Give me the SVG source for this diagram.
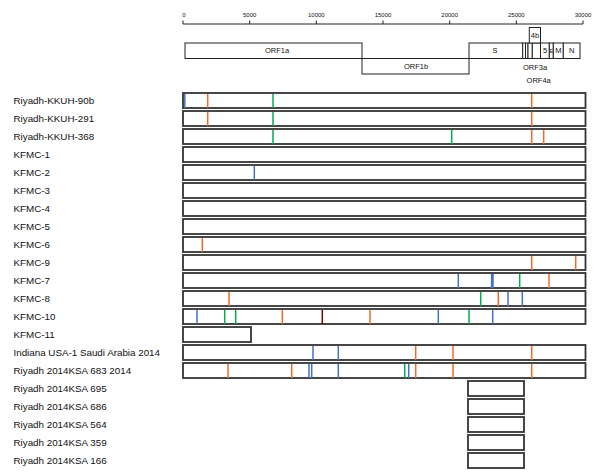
<svg xmlns="http://www.w3.org/2000/svg" width="600" height="476" viewBox="0 0 600 476">
<style>
text{font-family:"Liberation Sans",Arial,sans-serif;fill:#111}
.lab{font-size:9.8px}
.tk{font-size:6px;text-anchor:middle}
.gl{font-size:7.5px;text-anchor:middle}
.ax{stroke:#222;stroke-width:1;fill:none}
.gm{fill:#fff;stroke:#222;stroke-width:1}
.bar{fill:#fff;stroke:#333;stroke-width:1.8}
.o{stroke:#F26B2A;stroke-width:1.5}
.b{stroke:#4472C4;stroke-width:1.5}
.g{stroke:#00B050;stroke-width:1.5}
.r{stroke:#7F0000;stroke-width:1.5}
</style>
<g id="axis">
<path class="ax" d="M183 24H583M183 20.5V24M249.7 20.5V24M316.3 20.5V24M383 20.5V24M449.7 20.5V24M516.3 20.5V24M583 20.5V24"/>
<text class="tk" x="184" y="17">0</text>
<text class="tk" x="249.7" y="17">5000</text>
<text class="tk" x="316.3" y="17">10000</text>
<text class="tk" x="383" y="17">15000</text>
<text class="tk" x="449.7" y="17">20000</text>
<text class="tk" x="516.3" y="17">25000</text>
<text class="tk" x="583" y="17">30000</text>
</g>
<g id="genome-map">
<rect class="gm" x="185" y="43" width="177" height="15.5"/>
<rect class="gm" x="362" y="58.5" width="107" height="15.5"/>
<rect class="gm" x="469" y="43" width="53.7" height="15.5"/>
<rect class="gm" x="522.7" y="43" width="2.8" height="15.5"/>
<rect class="gm" x="525.5" y="43" width="2.5" height="15.5"/>
<rect class="gm" x="528" y="43" width="4.3" height="15.5"/>
<rect class="gm" x="532.3" y="43" width="8.2" height="15.5"/>
<rect class="gm" x="529.3" y="27.5" width="11.2" height="15.5"/>
<rect class="gm" x="540.5" y="43" width="8.8" height="15.5"/>
<rect class="gm" x="549.3" y="43" width="4" height="15.5"/>
<rect class="gm" x="553.3" y="43" width="10" height="15.5"/>
<rect class="gm" x="563.3" y="43" width="16.7" height="15.5"/>
<text class="gl" x="277" y="53.4">ORF1a</text>
<text class="gl" x="416" y="69.2">ORF1b</text>
<text class="gl" x="495" y="53.4">S</text>
<text class="gl" x="535" y="38.2">4b</text>
<text class="gl" x="545" y="53.4">5</text>
<text class="gl" x="551.3" y="53" style="font-size:5px">E</text>
<text class="gl" x="558.3" y="53.4">M</text>
<text class="gl" x="571.7" y="53.4">N</text>
<text class="gl" x="535" y="70.2">ORF3a</text>
<text class="gl" x="538.7" y="82.7">ORF4a</text>
</g>
<g id="row-riyadh-kkuh-90b">
<text class="lab" x="13.5" y="104">Riyadh-KKUH-90b</text>
<rect class="bar" x="183" y="93" width="402.5" height="15"/>
<path class="b" d="M184.8 94V108"/><path class="o" d="M207.7 94V108M531.7 94V108"/><path class="g" d="M273 94V108"/>
</g>
<g id="row-riyadh-kkuh-291">
<text class="lab" x="13.5" y="122">Riyadh-KKUH-291</text>
<rect class="bar" x="183" y="111" width="402.5" height="15"/>
<path class="o" d="M207.7 112V126M531.7 112V126"/><path class="g" d="M273 112V126"/>
</g>
<g id="row-riyadh-kkuh-368">
<text class="lab" x="13.5" y="140">Riyadh-KKUH-368</text>
<rect class="bar" x="183" y="129" width="402.5" height="15"/>
<path class="g" d="M273 130V144M451.7 130V144"/><path class="o" d="M531.7 130V144M543.7 130V144"/>
</g>
<g id="row-kfmc-1">
<text class="lab" x="13.5" y="158">KFMC-1</text>
<rect class="bar" x="183" y="147" width="402.5" height="15"/>
</g>
<g id="row-kfmc-2">
<text class="lab" x="13.5" y="176">KFMC-2</text>
<rect class="bar" x="183" y="165" width="402.5" height="15"/>
<path class="b" d="M254.3 166V180"/>
</g>
<g id="row-kfmc-3">
<text class="lab" x="13.5" y="194">KFMC-3</text>
<rect class="bar" x="183" y="183" width="402.5" height="15"/>
</g>
<g id="row-kfmc-4">
<text class="lab" x="13.5" y="212">KFMC-4</text>
<rect class="bar" x="183" y="201" width="402.5" height="15"/>
</g>
<g id="row-kfmc-5">
<text class="lab" x="13.5" y="230">KFMC-5</text>
<rect class="bar" x="183" y="219" width="402.5" height="15"/>
</g>
<g id="row-kfmc-6">
<text class="lab" x="13.5" y="248">KFMC-6</text>
<rect class="bar" x="183" y="237" width="402.5" height="15"/>
<path class="o" d="M202.3 238V252"/>
</g>
<g id="row-kfmc-9">
<text class="lab" x="13.5" y="266">KFMC-9</text>
<rect class="bar" x="183" y="255" width="402.5" height="15"/>
<path class="o" d="M531.7 256V270M575.7 256V270"/>
</g>
<g id="row-kfmc-7">
<text class="lab" x="13.5" y="284">KFMC-7</text>
<rect class="bar" x="183" y="273" width="402.5" height="15"/>
<path class="b" d="M458.3 274V288M491.6 274V288M493 274V288"/><path class="g" d="M519.7 274V288"/><path class="o" d="M549 274V288"/>
</g>
<g id="row-kfmc-8">
<text class="lab" x="13.5" y="302">KFMC-8</text>
<rect class="bar" x="183" y="291" width="402.5" height="15"/>
<path class="o" d="M229 292V306M498.3 292V306"/><path class="g" d="M480.7 292V306"/><path class="b" d="M508 292V306M522.3 292V306"/>
</g>
<g id="row-kfmc-10">
<text class="lab" x="13.5" y="320">KFMC-10</text>
<rect class="bar" x="183" y="309" width="402.5" height="15"/>
<path class="b" d="M197 310V324M438.3 310V324M492.7 310V324"/><path class="g" d="M224.7 310V324M235.7 310V324M469 310V324"/><path class="o" d="M282.3 310V324M370 310V324"/><path class="r" d="M322.3 310V324"/>
</g>
<g id="row-kfmc-11">
<text class="lab" x="13.5" y="338">KFMC-11</text>
<rect class="bar" x="183" y="327" width="68" height="15"/>
</g>
<g id="row-indiana-usa-1">
<text class="lab" x="13.5" y="356">Indiana USA-1 Saudi Arabia 2014</text>
<rect class="bar" x="183" y="345" width="402.5" height="15"/>
<path class="b" d="M313 346V360M338.3 346V360"/><path class="o" d="M415.7 346V360M453 346V360M531.7 346V360"/>
</g>
<g id="row-riyadh-2014ksa-683">
<text class="lab" x="13.5" y="374">Riyadh 2014KSA 683 2014</text>
<rect class="bar" x="183" y="363" width="402.5" height="15"/>
<path class="o" d="M228 364V378M291.7 364V378M415.7 364V378M453 364V378M531.7 364V378"/><path class="b" d="M309 364V378M311.7 364V378M338.3 364V378M408.7 364V378"/><path class="g" d="M404.7 364V378"/>
</g>
<g id="row-riyadh-2014ksa-695">
<text class="lab" x="13.5" y="392">Riyadh 2014KSA 695</text>
<rect class="bar" x="468" y="381" width="56" height="15"/>
</g>
<g id="row-riyadh-2014ksa-686">
<text class="lab" x="13.5" y="410">Riyadh 2014KSA 686</text>
<rect class="bar" x="468" y="399" width="56" height="15"/>
</g>
<g id="row-riyadh-2014ksa-564">
<text class="lab" x="13.5" y="428">Riyadh 2014KSA 564</text>
<rect class="bar" x="468" y="417" width="56" height="15"/>
</g>
<g id="row-riyadh-2014ksa-359">
<text class="lab" x="13.5" y="446">Riyadh 2014KSA 359</text>
<rect class="bar" x="468" y="435" width="56" height="15"/>
</g>
<g id="row-riyadh-2014ksa-166">
<text class="lab" x="13.5" y="464">Riyadh 2014KSA 166</text>
<rect class="bar" x="468" y="453" width="56" height="15"/>
</g>
</svg>
